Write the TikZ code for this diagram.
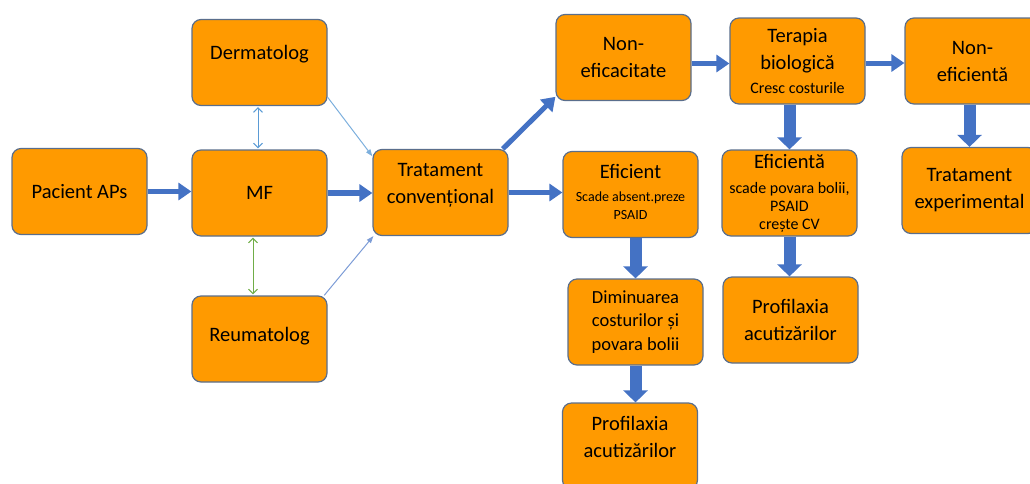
\documentclass[tikz,border=0pt]{standalone}
\usepackage{fontspec}
\setmainfont{Carlito}
\usepackage{tikz}
\usetikzlibrary{calc}
\usetikzlibrary{arrows.meta}
\definecolor{boxfill}{HTML}{FF9A00}
\definecolor{boxline}{HTML}{5A6E8C}
\definecolor{flowblue}{HTML}{4472C4}
\definecolor{linkblue}{HTML}{5B9BD5}
\definecolor{linkgreen}{HTML}{70AD47}
\newcommand{\sm}{\fontsize{14}{18}\selectfont}
\newcommand{\smb}{\fontsize{16}{18}\selectfont}
\tikzset{box/.style={rectangle,rounded corners=9pt,draw=boxline,line width=1.2pt,fill=boxfill,minimum width=135pt,minimum height=86pt,align=center,inner sep=2pt,font=\fontsize{20.5}{27}\selectfont}}
\tikzset{flow/.style={draw=flowblue,line width=5pt,-{Triangle[length=13pt,width=17pt]}}}
\tikzset{block/.style={draw=flowblue,line width=12pt,-{Triangle[length=12pt,width=24pt]}}}
\tikzset{link/.style={line width=1pt}}
\tikzset{barbs/.style={{Straight Barb[length=4.5pt,width=9pt]}-{Straight Barb[length=4.5pt,width=9pt]},shorten <=1pt,shorten >=1pt}}

\begin{document}
\begin{tikzpicture}[x=1pt,y=-1pt]
\useasboundingbox (0,0) rectangle (1030,483);
\clip (0,0) rectangle (1030,483);
% left part
\node[box] (pac) at (79.5,191.5) {Pacient APs};
\node[box,text depth=20pt] (derm) at (259.5,62.5) {Dermatolog};
\node[box] (mf) at (259.5,193) {MF};
\node[box,text depth=9pt] (reum) at (259.5,339) {Reumatolog};
\node[box,text depth=19pt] (trat) at (440.5,192.5) {Tratament\\convențional};
% right part
\node[box] (noneff) at (623.5,57.5) {Non-\\eficacitate};
\node[box,text depth=6pt] (eff) at (630.5,194.5) {Eficient\\[-4pt]\sm Scade absent.preze\\[-9pt]\sm PSAID};
\node[box,font=\fontsize{18.5}{23.5}\selectfont] (dimin) at (635.5,322) {Diminuarea\\costurilor și\\povara bolii};
\node[box,text depth=19pt] (prof1) at (630,446) {Profilaxia\\acutizărilor};
\node[box] (terap) at (797.5,61) {Terapia\\biologică\\[-3pt]\smb Cresc costurile};
\node[box] (effa) at (789.5,193) {Eficientă\\[-2pt]\smb scade povara bolii,\\[-9pt]\smb PSAID\\[-9pt]\smb crește CV};
\node[box] (prof2) at (790.5,320) {Profilaxia\\acutizărilor};
\node[box] (nonef2) at (972.5,61) {Non-\\eficientă};
\node[box] (exper) at (969.5,190.5) {Tratament\\experimental};

%\draw thin links
\draw[link,draw=linkblue,barbs] ([xshift=-1.5pt]derm.south) -- ([xshift=-1.5pt]derm.south |- mf.north);
\draw[link,draw=linkgreen,barbs] ([xshift=-6.5pt]mf.south) -- ([xshift=-6.5pt]mf.south |- reum.north);
\draw[link,draw=linkblue!80,-{Triangle[length=7pt,width=5pt]}] (derm.-27) -- (trat.152);
\draw[link,draw=flowblue!70,-{Triangle[length=7pt,width=5pt]}] (reum.34.5) -- (trat.213);

% main flow
\draw[flow] (pac.east) -- (pac.east -| mf.west);
\draw[flow,line width=6pt] (mf.east) -- (mf.east -| trat.west);
\draw[flow] (trat.east) -- (trat.east -| eff.west);
\draw[flow] (trat.35.5) -- (noneff.210);
\draw[flow] ([yshift=-6pt]noneff.east) -- ([yshift=-6pt]noneff.east -| terap.west);
\draw[flow] ([yshift=-2pt]terap.east) -- ([yshift=-2pt]terap.east -| nonef2.west);

\foreach \a/\b in {terap/effa,nonef2/exper,eff/dimin} {
	\draw[block] (\b.north |- \a.south) -- (\b.north);
}
\foreach \a/\b in {dimin/prof1,effa/prof2} {
	\draw[block] (\a.south) -- (\a.south |- \b.north);
}
\end{tikzpicture}
\end{document}
